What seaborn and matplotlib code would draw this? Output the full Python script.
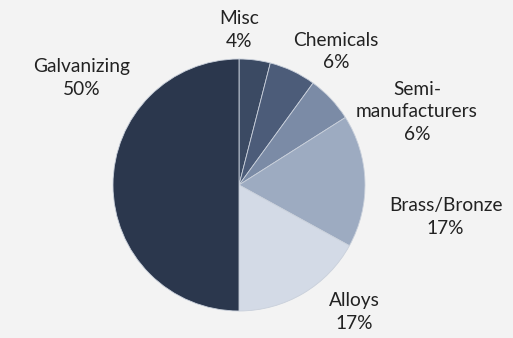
import numpy as np
import seaborn as sns
import matplotlib.pyplot as plt

# zinc end-use shares (%), clockwise from 12 o'clock
categories = ["Misc", "Chemicals", "Semi-\nmanufacturers", "Brass/Bronze", "Alloys", "Galvanizing"]
shares = [4, 6, 6, 17, 17, 50]
colors = ["#3b4a63", "#4c5c79", "#7b8ba6", "#9dabc1", "#d3dae6", "#2b374d"]

# label placement (polar, in pie radius units)
label_angle = [90.0, 54.0, 22.3, -8.8, -47.8, 145.7]
label_dist = [1.23, 1.31, 1.527, 1.66, 1.36, 1.508]

sns.set_theme(style="white")
plt.rcParams['font.family'] = ['Lato', 'DejaVu Sans']

bg = "#f3f3f3"
fig = plt.figure(figsize=(5.13, 3.38), dpi=100, facecolor=bg)
ax = fig.add_axes([113 / 513, 27 / 338, 252 / 513, 252 / 338])
ax.set_facecolor(bg)

wedges, _ = ax.pie(
    shares, colors=colors, startangle=90, counterclock=False, radius=1.0,
    wedgeprops=dict(edgecolor="#c9d0db", linewidth=0.6),
)
ax.set_xlim(-1, 1)
ax.set_ylim(-1, 1)
ax.set_aspect("equal")
ax.axis("off")

for name, val, ang, dist in zip(categories, shares, label_angle, label_dist):
    a = np.deg2rad(ang)
    ax.text(dist * np.cos(a), dist * np.sin(a), f"{name}\n{val}%",
            ha="center", va="center", fontsize=13.8, color="#222222",
            linespacing=1.4)

fig.savefig("out.png", dpi=100, facecolor=bg)
